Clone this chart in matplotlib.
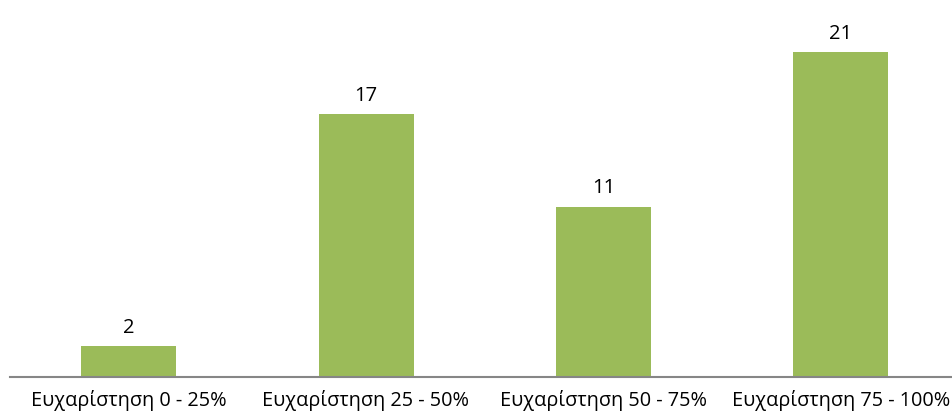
import matplotlib
matplotlib.use("Agg")
import matplotlib.pyplot as plt

categories = ["Ευχαρίστηση 0 - 25%", "Ευχαρίστηση 25 - 50%", "Ευχαρίστηση 50 - 75%", "Ευχαρίστηση 75 - 100%"]
values = [2, 17, 11, 21]

plt.rcParams['font.family'] = ['Open Sans', 'DejaVu Sans']

W, H = 953, 419
fig = plt.figure(figsize=(W/100, H/100), dpi=100)
left = 9.75 / W
width = 950 / W
bottom = 42 / H
height = 377 / H
ax = fig.add_axes([left, bottom, width, height])
x = list(range(len(categories)))
ax.bar(x, values, width=0.4, color="#9BBB59")
ax.set_xlim(-0.5, 3.5)
ax.set_ylim(0, 377 / 15.48)
for xi, v in zip(x, values):
    ax.annotate(str(v), (xi, v), xytext=(0, 6), textcoords="offset points",
                ha="center", va="bottom", fontsize=14.5, color="black")
for s in ["top", "right", "left"]:
    ax.spines[s].set_visible(False)
ax.spines["bottom"].set_color("#868686")
ax.spines["bottom"].set_linewidth(1.5)
ax.set_yticks([])
ax.set_xticks(x)
ax.set_xticklabels(categories, fontsize=14.3)
ax.tick_params(axis="x", length=0, pad=9)
fig.savefig("out.png", dpi=100)
